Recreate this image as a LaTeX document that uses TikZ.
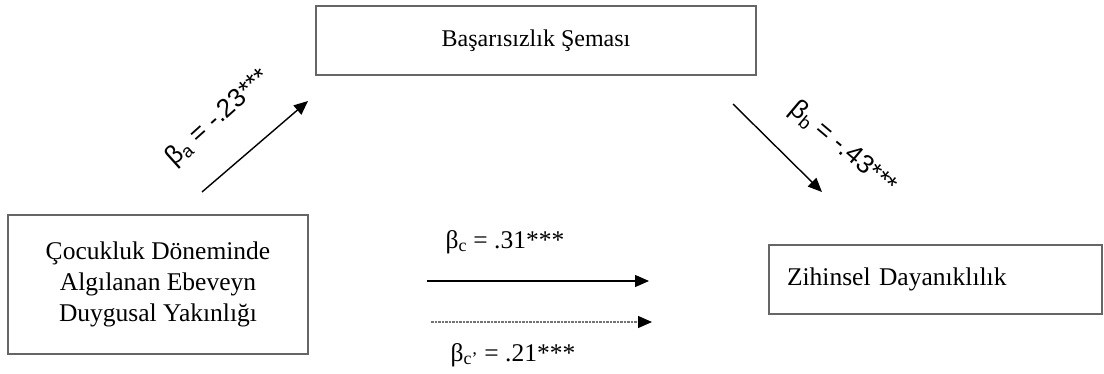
\documentclass[tikz,border=0pt]{standalone}
\usepackage{fontspec}
\setmainfont{Liberation Serif}
\newfontfamily\coefsans{Liberation Sans}
\usetikzlibrary{arrows.meta}

\begin{document}
\begin{tikzpicture}[x=1pt,y=-1pt,
    varbox/.style={draw=black!60,line width=1.4pt,inner sep=0pt,font=\fontsize{25.5}{31}\selectfont},
    effect/.style={line width=1.4pt,-{Triangle[length=14pt,width=12pt,color=black]}},
    coef/.style={font=\fontsize{25.5}{30}\selectfont},
    coefrot/.style={font=\coefsans\fontsize{26}{30}\selectfont}]
  \useasboundingbox (0,0) rectangle (1104,374);

  % variables
  \node[varbox,minimum width=440pt,minimum height=69pt,font=\fontsize{24}{28}\selectfont] (schema) at (536,40.5) {Başarısızlık Şeması};
  \node[varbox,minimum width=300pt,minimum height=139pt,align=center] (closeness) at (158,284.5) {Çocukluk Döneminde\\Algılanan Ebeveyn\\Duygusal Yakınlığı};
  \node[varbox,minimum height=69pt,text width=297pt,inner xsep=18pt,align=left] (resilience) at (935.5,279.5) {Zihinsel Dayanıklılık};

  % path ends
  \coordinate (a0) at (202,192);
  \coordinate (a1) at (308,101);
  \coordinate (b0) at (733,104);
  \coordinate (b1) at (822,192);
  \coordinate (c0) at (427,281);
  \coordinate (c1) at (649,281);
  \coordinate (d0) at (431,322);
  \coordinate (d1) at (652,322);

  \draw[effect] (a0) -- (a1);
  \draw[effect] (b0) -- (b1);
  \draw[effect] (c0) -- (c1);
  \draw[effect,black!55,line width=1.2pt,dash pattern=on 2.5pt off 1pt] (d0) -- (d1);

  % coefficients
  \node[coefrot,rotate=42] (ba) at (218,118) {β\textsubscript{a} = -.23***};
  \node[coefrot,rotate=-40] (bb) at (843,148) {β\textsubscript{b} = -.43***};
  \node[coef] (bc) at (505,242) {β\textsubscript{c} = .31***};
  \node[coef] (bcp) at (513,355) {β\textsubscript{c’} = .21***};
\end{tikzpicture}
\end{document}
